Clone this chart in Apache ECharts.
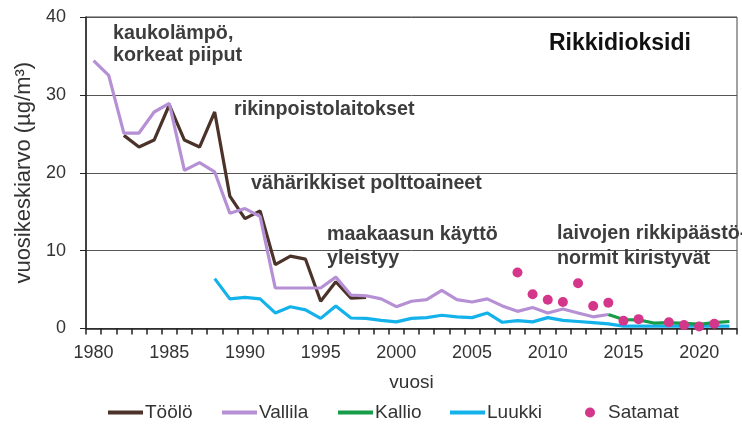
<!DOCTYPE html>
<html>
<head>
<meta charset="utf-8">
<script src="https://cdn.jsdelivr.net/npm/echarts@6/dist/echarts.min.js"></script>
<style>html,body{margin:0;padding:0;background:#fff;}#c{width:742px;height:426px;}</style>
</head>
<body>
<div id="c"></div>
<script>
var years = [];
for (var y = 1980; y <= 2022; y++) years.push(String(y));

var toolo = [null, null, 24.8, 23.3, 24.2, 28.7, 24.2, 23.3, 27.8, 17.0, 14.1, 15.1, 8.2, 9.3, 8.9, 3.5, 6.0, 3.9, 4.0,
  null, null, null, null, null, null, null, null, null, null, null, null, null, null, null, null, null, null, null, null, null, null, null, null];
var vallila = [34.4, 32.5, 25.1, 25.1, 27.8, 28.9, 20.3, 21.3, 20.1, 14.8, 15.4, 14.4, 5.2, 5.2, 5.2, 5.2, 6.6, 4.3, 4.2,
  3.8, 2.8, 3.5, 3.7, 4.9, 3.7, 3.4, 3.8, 2.9, 2.2, 2.7, 2.0, 2.5, 2.0, 1.5, 1.8,
  null, null, null, null, null, null, null, null];
var kallio = [null, null, null, null, null, null, null, null, null, null, null, null, null, null, null, null, null, null, null,
  null, null, null, null, null, null, null, null, null, null, null, null, null, null, null,
  1.8, 1.15, 1.1, 0.7, 0.75, 0.65, 0.55, 0.75, 0.9];
var luukki = [null, null, null, null, null, null, null, null, 6.4, 3.8, 4.0, 3.8, 2.0, 2.8, 2.4, 1.3, 2.9, 1.35, 1.3,
  1.05, 0.85, 1.3, 1.4, 1.7, 1.5, 1.4, 2.0, 0.8, 1.0, 0.85, 1.4, 1.05, 0.9, 0.75, 0.6,
  0.3, 0.3, 0.3, 0.3, 0.3, 0.3, 0.3, 0.3];
var satamat = [null, null, null, null, null, null, null, null, null, null, null, null, null, null, null, null, null, null, null,
  null, null, null, null, null, null, null, null, null,
  7.2, 4.4, 3.7, 3.4, 5.8, 2.9, 3.3, 1.0, 1.2, null, 0.8, 0.45, 0.25, 0.6, null];
var yTicks = [0, 10, 20, 30, 40];

var colors = {'Töölö': '#4b3329', 'Vallila': '#b690d4', 'Kallio': '#179c4a', 'Luukki': '#14b2ea', 'Satamat': '#d4368a'};

var chart = echarts.init(document.getElementById('c'), null, {renderer: 'canvas'});
var txtColor = '#3d3d3d';
var FF = '"Liberation Sans", Arial, sans-serif';
var annFont = 'bold 19.7px ' + FF;

function ann(text, x, y, font, color) {
  return {type: 'text', z: 100, style: {text: text, x: x, y: y, font: font || annFont, fill: color || txtColor, verticalAlign: 'middle'}};
}

function lineLegend(name, left) {
  return {show: true, left: left, top: 403, padding: 0, icon: 'rect', itemWidth: 35, itemHeight: 4, itemGap: 0,
    textStyle: {fontFamily: FF, fontSize: 19, color: '#333', padding: [0, 0, 0, -3]},
    data: [name]};
}

var option = {
  animation: false,
  backgroundColor: '#fff',
  grid: {left: 86, right: 5, top: 17, bottom: 97.5, show: true, borderColor: '#444', borderWidth: 1, containLabel: false},
  xAxis: {
    type: 'category', data: years, boundaryGap: true,
    name: 'vuosi', nameLocation: 'middle', nameGap: 45,
    nameTextStyle: {fontFamily: FF, fontSize: 19, color: '#333'},
    axisLine: {lineStyle: {color: '#222', width: 1.5}},
    axisTick: {show: true, interval: 0, length: 6, lineStyle: {color: '#222', width: 1.5}},
    axisLabel: {interval: 4, margin: 16, fontFamily: FF, fontSize: 18, color: '#333'},
    splitLine: {show: false}
  },
  yAxis: {
    type: 'value', min: yTicks[0], max: yTicks[yTicks.length - 1], interval: 10,
    name: 'vuosikeskiarvo (µg/m³)', nameLocation: 'middle', nameGap: 51,
    nameTextStyle: {fontFamily: FF, fontSize: 22, color: '#333'},
    axisLine: {show: true, lineStyle: {color: '#222', width: 1.5}},
    axisTick: {show: true, length: 6, lineStyle: {color: '#222', width: 1}},
    axisLabel: {margin: 20, fontFamily: FF, fontSize: 18, color: '#333'},
    splitLine: {show: true, lineStyle: {color: '#555', width: 1}}
  },
  legend: [
    lineLegend('Töölö', 108),
    lineLegend('Vallila', 222),
    lineLegend('Kallio', 338),
    lineLegend('Luukki', 450),
    {show: true, left: 585, top: 403, padding: 0, icon: 'circle', itemWidth: 10, itemHeight: 10, itemGap: 0,
      textStyle: {fontFamily: FF, fontSize: 19, color: '#333', padding: [0, 0, 0, 8]},
      data: ['Satamat']}
  ],
  series: [
    {name: 'Töölö', type: 'line', data: toolo, symbol: 'none', lineStyle: {width: 3.2, color: colors['Töölö']}, itemStyle: {color: colors['Töölö']}, z: 2},
    {name: 'Vallila', type: 'line', data: vallila, symbol: 'none', lineStyle: {width: 3.2, color: colors['Vallila']}, itemStyle: {color: colors['Vallila']}, z: 3},
    {name: 'Luukki', type: 'line', data: luukki, symbol: 'none', lineStyle: {width: 3.2, color: colors['Luukki']}, itemStyle: {color: colors['Luukki']}, z: 4},
    {name: 'Kallio', type: 'line', data: kallio, symbol: 'none', lineStyle: {width: 3.2, color: colors['Kallio']}, itemStyle: {color: colors['Kallio']}, z: 5},
    {name: 'Satamat', type: 'scatter', data: satamat, symbol: 'circle', symbolSize: 10, itemStyle: {color: colors['Satamat'], opacity: 1}, z: 6}
  ],
  graphic: [
    ann('kaukolämpö,', 113, 33.5),
    ann('korkeat piiput', 113, 56),
    ann('rikinpoistolaitokset', 234, 110),
    ann('vähärikkiset polttoaineet', 251, 183.5),
    ann('maakaasun käyttö', 327, 235),
    ann('yleistyy', 327, 258.5),
    ann('laivojen rikkipäästö-', 557, 234),
    ann('normit kiristyvät', 557, 258.5),
    ann('Rikkidioksidi', 549, 43.5, 'bold 23px ' + FF, '#111')
  ]
};
chart.setOption(option);
</script>
</body>
</html>
